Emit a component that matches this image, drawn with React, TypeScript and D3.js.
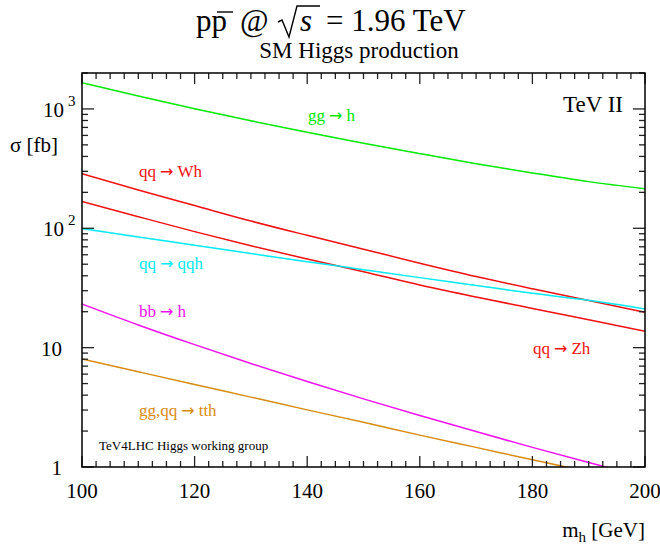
import React, { useRef, useEffect } from 'react';
import * as d3 from 'd3';

// Higgs mass points [GeV] and cross sections [fb]
const masses = [100, 110, 120, 130, 140, 150, 160, 170, 180, 190, 200];
const ggH = [1656, 1283, 1005, 796, 637, 515, 422, 348, 291, 246, 214];
const qqWh = [286, 209, 155, 115, 87.3, 66.8, 51.0, 39.4, 31.1, 24.8, 19.8];
const qqZh = [167.5, 125, 93.8, 71.4, 55.3, 43.3, 33.5, 26.6, 21.3, 17.1, 13.7];
const qqH = [99.3, 84.7, 72.1, 61.5, 52.5, 45.0, 38.6, 33.2, 28.5, 24.9, 21.1];
const bbH = [23.2, 15.5, 10.6, 7.36, 5.2, 3.72, 2.7, 1.98, 1.46, 1.09, 0.82];
const ttH = [8.04, 6.28, 4.91, 3.85, 3.01, 2.37, 1.85, 1.46, 1.15, 0.91, 0.72];

const xTicks = [100, 120, 140, 160, 180, 200];
const yTicks = [1, 10, 100, 1000];

// process label: [initial state, final state]
const series = [
  { name: ['gg', 'h'], values: ggH, color: '#00e800' },
  { name: ['qq', 'Wh'], values: qqWh, color: '#f01010' },
  { name: ['qq', 'Zh'], values: qqZh, color: '#f01010' },
  { name: ['qq', 'qqh'], values: qqH, color: '#00eaf5' },
  { name: ['bb', 'h'], values: bbH, color: '#f010f0' },
  { name: ['gg,qq', 'tth'], values: ttH, color: '#d98b10' },
];

// label anchor (pixel) for each series label
const labelPos: [number, number][] = [
  [308, 121],
  [139, 177],
  [533, 354],
  [139, 269],
  [139, 317],
  [139, 416],
];

const FONT = '"Liberation Serif", "Times New Roman", serif';

const App = () => {
  const ref = useRef<SVGSVGElement>(null);

  useEffect(() => {
    const svg = d3.select(ref.current);
    svg.selectAll('*').remove();

    const W = 660, H = 546;
    const left = 82, right = 645, top = 73, bottom = 467;

    const x = d3.scaleLinear().domain([100, 200]).range([left, right]);
    const y = d3.scaleLog().domain([1, 2000]).range([bottom, top]);

    svg.attr('width', W).attr('height', H);
    svg.append('rect').attr('width', W).attr('height', H).attr('fill', '#fff');

    // title
    const t = svg.append('g').attr('font-family', FONT).attr('fill', '#000');
    t.append('text').attr('x', 196).attr('y', 31).attr('font-size', 31).text('pp');
    t.append('line').attr('x1', 217).attr('x2', 233).attr('y1', 12).attr('y2', 12)
      .attr('stroke', '#000').attr('stroke-width', 1.4);
    t.append('text').attr('x', 240).attr('y', 31).attr('font-size', 31).text('@');
    t.append('path')
      .attr('d', 'M278,22 L282,20 L289,37 L297,6 L320,6')
      .attr('fill', 'none').attr('stroke', '#000').attr('stroke-width', 1.4);
    t.append('text').attr('x', 300).attr('y', 31).attr('font-size', 31)
      .attr('font-style', 'italic').text('s');
    t.append('text').attr('x', 326).attr('y', 31).attr('font-size', 31).text('= 1.96 TeV');
    t.append('text').attr('x', 359).attr('y', 58).attr('font-size', 23)
      .attr('text-anchor', 'middle').text('SM Higgs production');

    // curves
    svg.append('clipPath').attr('id', 'plotClip')
      .append('rect').attr('x', left).attr('y', top)
      .attr('width', right - left).attr('height', bottom - top);

    const line = d3.line<number>()
      .x((_, i) => x(masses[i]))
      .y(d => y(d))
      .curve(d3.curveMonotoneX);

    const curves = svg.append('g').attr('clip-path', 'url(#plotClip)');
    series.forEach(s => {
      curves.append('path')
        .attr('d', line(s.values))
        .attr('fill', 'none')
        .attr('stroke', s.color)
        .attr('stroke-width', 1.5);
    });

    series.forEach((s, i) => {
      const tx = svg.append('text')
        .attr('x', labelPos[i][0]).attr('y', labelPos[i][1])
        .attr('font-family', FONT).attr('font-size', 17)
        .attr('fill', s.color);
      tx.append('tspan').text(s.name[0]);
      tx.append('tspan').attr('dx', 4).attr('font-family', '"DejaVu Sans", sans-serif')
        .attr('font-size', 16).text('\u2192');
      tx.append('tspan').attr('dx', 4).text(s.name[1]);
    });

    // frame and ticks
    const axes = svg.append('g').attr('stroke', '#222').attr('stroke-width', 1.3);
    const xMinor = d3.range(100, 200.01, 2.5);
    xMinor.forEach(v => {
      const major = xTicks.includes(v);
      const len = major ? 11 : 6;
      axes.append('line').attr('x1', x(v)).attr('x2', x(v))
        .attr('y1', bottom).attr('y2', bottom - len);
      axes.append('line').attr('x1', x(v)).attr('x2', x(v))
        .attr('y1', top).attr('y2', top + len);
    });
    const yMinor: number[] = [];
    yTicks.forEach(d => {
      for (let k = 2; k <= 9; k++) if (d * k <= 2000) yMinor.push(d * k);
    });
    yMinor.forEach(v => {
      axes.append('line').attr('x1', left).attr('x2', left + 6).attr('y1', y(v)).attr('y2', y(v));
      axes.append('line').attr('x1', right).attr('x2', right - 6).attr('y1', y(v)).attr('y2', y(v));
    });
    yTicks.forEach(v => {
      axes.append('line').attr('x1', left).attr('x2', left + 12).attr('y1', y(v)).attr('y2', y(v));
      axes.append('line').attr('x1', right).attr('x2', right - 12).attr('y1', y(v)).attr('y2', y(v));
    });
    svg.append('rect').attr('x', left).attr('y', top)
      .attr('width', right - left).attr('height', bottom - top)
      .attr('fill', 'none').attr('stroke', '#000').attr('stroke-width', 1.5);

    // tick labels
    const lab = svg.append('g').attr('font-family', FONT).attr('font-size', 21).attr('fill', '#000');
    xTicks.forEach(v => {
      lab.append('text').attr('x', x(v)).attr('y', 498)
        .attr('text-anchor', 'middle').text(v);
    });
    yTicks.forEach(v => {
      const exp = Math.round(Math.log10(v));
      if (exp < 2) {
        lab.append('text').attr('x', 62).attr('y', y(v) + 8)
          .attr('text-anchor', 'end').text(v);
      } else {
        const tx = lab.append('text').attr('x', 43).attr('y', y(v) + 8);
        tx.append('tspan').text('10');
        tx.append('tspan').attr('dx', 4).attr('dy', -11).attr('font-size', 15).text(String(exp));
      }
    });

    // axis titles
    const at = svg.append('g').attr('font-family', FONT).attr('fill', '#000');
    at.append('text').attr('x', 10).attr('y', 152).attr('font-size', 21).text('\u03c3 [fb]');
    const xt = at.append('text').attr('x', 645).attr('y', 537).attr('font-size', 21).attr('text-anchor', 'end');
    xt.append('tspan').text('m');
    xt.append('tspan').attr('dy', 5).attr('font-size', 15).text('h');
    xt.append('tspan').attr('dy', -5).text(' [GeV]');
    at.append('text').attr('x', 623).attr('y', 112).attr('font-size', 23)
      .attr('text-anchor', 'end').text('TeV II');
    at.append('text').attr('x', 99).attr('y', 450).attr('font-size', 13)
      .text('TeV4LHC Higgs working group');
  }, []);

  return (
    <svg ref={ref} style={{ position: 'absolute', left: 0, top: 0 }} />
  );
};

export default App;
